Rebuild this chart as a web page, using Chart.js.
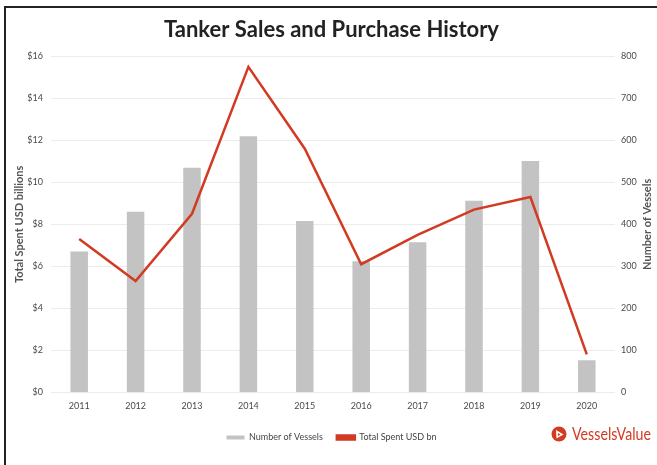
<!DOCTYPE html>
<html>
<head>
<meta charset="utf-8">
<script src="https://cdn.jsdelivr.net/npm/chart.js@4/dist/chart.umd.min.js"></script>
<style>
  html, body { margin: 0; padding: 0; background: #fff; }
  #wrap { position: relative; width: 657px; height: 465px; }
  #frame { position: absolute; left: 4px; top: 6px; right: -4px; bottom: -4px;
           border-left: 2px solid #222; border-top: 2px solid #222; pointer-events: none; }
  canvas { position: absolute; left: 0; top: 0; }
</style>
</head>
<body>
<div id="wrap">
  <canvas id="chart" width="657" height="465"></canvas>
  <div id="frame"></div>
</div>
<script>
// years on the x axis
const years = ["2011", "2012", "2013", "2014", "2015", "2016", "2017", "2018", "2019", "2020"];
// number of tanker vessels sold (right axis)
const vessels = [335, 430, 535, 610, 408, 312, 357, 456, 551, 76];
// total spent, USD billions (left axis)
const spentBn = [7.3, 5.3, 8.5, 15.5, 11.6, 6.1, 7.5, 8.7, 9.3, 1.8];

const FONT = "Lato, 'Open Sans', sans-serif";
const RED = "#d23a22";
const GREY = "#c3c3c3";

// right axis title reads bottom-to-top, like the left one
const rightTitlePlugin = {
  id: "rightTitle",
  afterDraw(chart) {
    const ctx = chart.ctx;
    const area = chart.chartArea;
    ctx.save();
    ctx.translate(647, (area.top + area.bottom) / 2);
    ctx.rotate(-Math.PI / 2);
    ctx.font = "bold 11px " + FONT;
    ctx.fillStyle = "#555";
    ctx.textAlign = "center";
    ctx.textBaseline = "middle";
    ctx.fillText("Number of Vessels", 0, 0);
    ctx.restore();
  }
};

// VesselsValue mark bottom right
const logoPlugin = {
  id: "logo",
  afterDraw(chart) {
    const ctx = chart.ctx;
    const cx = 559, cy = 434, r = 7.5;
    ctx.save();
    ctx.fillStyle = RED;
    ctx.beginPath();
    ctx.arc(cx, cy, r, 0, Math.PI * 2);
    ctx.fill();
    ctx.fillStyle = "#fff";
    ctx.beginPath();
    ctx.moveTo(cx - 3, cy - 4);
    ctx.lineTo(cx + 4.5, cy + 0.5);
    ctx.lineTo(cx - 2.5, cy + 4.5);
    ctx.closePath();
    ctx.fill();
    ctx.fillStyle = RED;
    ctx.beginPath();
    ctx.moveTo(cx - 1.2, cy - 1);
    ctx.lineTo(cx + 1.6, cy + 0.6);
    ctx.lineTo(cx - 1, cy + 2);
    ctx.closePath();
    ctx.fill();
    ctx.font = "17px " + FONT;
    ctx.textBaseline = "middle";
    const txt = "VesselsValue";
    const w = ctx.measureText(txt).width;
    ctx.translate(572, cy + 1);
    ctx.scale(79 / w, 1);
    ctx.fillText(txt, 0, 0);
    ctx.restore();
  }
};

new Chart(document.getElementById("chart"), {
  data: {
    labels: years,
    datasets: [
      {
        type: "bar",
        label: "Number of Vessels",
        data: vessels,
        yAxisID: "yCount",
        backgroundColor: GREY,
        barPercentage: 0.31,
        categoryPercentage: 1,
        order: 2
      },
      {
        type: "line",
        label: "Total Spent USD bn",
        data: spentBn,
        yAxisID: "ySpent",
        borderColor: RED,
        backgroundColor: RED,
        borderWidth: 2.5,
        pointRadius: 0,
        tension: 0,
        order: 1
      }
    ]
  },
  options: {
    responsive: false,
    animation: false,
    layout: { padding: { top: 8, left: 6, right: 0, bottom: 13 } },
    plugins: {
      title: {
        display: true,
        text: "Tanker Sales and Purchase History",
        color: "#222",
        font: { family: FONT, size: 22, weight: "bold" },
        padding: { top: 9, bottom: 13 }
      },
      legend: {
        position: "bottom",
        labels: {
          color: "#444",
          font: { family: FONT, size: 9 },
          boxWidth: 18,
          boxHeight: 4,
          padding: 14,
          sort: (a, b) => a.datasetIndex - b.datasetIndex
        }
      },
      tooltip: { enabled: false }
    },
    scales: {
      x: {
        grid: { display: false, drawTicks: false },
        border: { display: false },
        ticks: { color: "#4a4a4a", font: { family: FONT, size: 9 }, padding: 8 }
      },
      ySpent: {
        position: "left",
        min: 0,
        max: 16,
        afterFit(s) { s.width = 45; },
        grid: { color: "#ececec", drawTicks: false },
        border: { display: false },
        ticks: {
          stepSize: 2,
          color: "#4a4a4a",
          font: { family: FONT, size: 9 },
          padding: 8,
          callback: (v) => "$" + v
        },
        title: {
          display: true,
          text: "Total Spent USD billions",
          color: "#555",
          font: { family: FONT, size: 11, weight: "bold" },
          padding: { top: 7, bottom: 0 }
        }
      },
      yCount: {
        position: "right",
        min: 0,
        max: 800,
        afterFit(s) { s.width = 42; },
        grid: { display: false, drawTicks: false },
        border: { display: false },
        ticks: { stepSize: 100, color: "#4a4a4a", font: { family: FONT, size: 9 }, padding: 6 }
      }
    }
  },
  plugins: [rightTitlePlugin, logoPlugin]
});
</script>
</body>
</html>
